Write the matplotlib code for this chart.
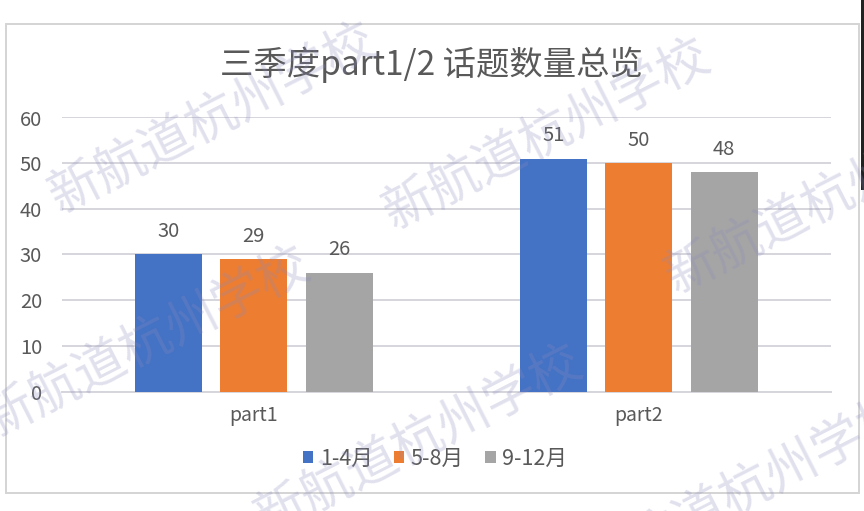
from matplotlib import pyplot as plt
from matplotlib.patches import Rectangle
import numpy as np

plt.rcParams['font.family'] = ['Noto Sans CJK SC', 'DejaVu Sans']

title = "三季度part1/2 话题数量总览"
categories = ["part1", "part2"]
series_names = ["1-4月", "5-8月", "9-12月"]
series_values = [[30, 51], [29, 50], [26, 48]]
series_colors = ["#4472C4", "#ED7D31", "#A5A5A5"]
y_ticks = [0, 10, 20, 30, 40, 50, 60]

watermark = "新航道杭州学校"
# watermark anchors in figure pixels, measured from the top left (left end of the text)
watermark_starts = [(60, 214), (394, 230), (676, 294), (-6, 438), (266, 536), (594, 585)]

W, H = 864, 511
text_color = "#595959"
grid_color = "#D5D5DC"

fig = plt.figure(figsize=(W / 100, H / 100), dpi=100)
fig.patch.set_facecolor("white")

# outer chart frame, kept behind the axes
fig.add_artist(Rectangle((6 / W, 1 - 493 / H), 853 / W, 469 / H, transform=fig.transFigure,
                         facecolor="white", edgecolor="#D4D4D4", linewidth=1.4, zorder=-1))

ax = fig.add_axes([61.5 / W, 1 - 391.5 / H, 769.5 / W, 274 / H])
ax.set_facecolor("none")

x = np.arange(len(categories))
bar_width = 0.174
step = 0.222
for i in range(len(series_names)):
    bars = ax.bar(x + (i - 1) * step, series_values[i], bar_width, color=series_colors[i],
                  label=series_names[i], zorder=3)
    ax.bar_label(bars, padding=9, fontsize=14.5, color=text_color)

ax.set_xlim(-0.5, 1.5)
ax.set_ylim(0, 60)
ax.set_yticks(y_ticks)
ax.set_xticks(x)
ax.set_xticklabels(categories)
ax.tick_params(axis="y", length=0, pad=14, labelsize=14.5, labelcolor=text_color)
ax.tick_params(axis="x", length=0, pad=10, labelsize=14, labelcolor=text_color)
ax.grid(axis="y", color=grid_color, linewidth=1.4, zorder=0)
ax.set_axisbelow(True)
for side in ["top", "right", "left"]:
    ax.spines[side].set_visible(False)
ax.spines["bottom"].set_color(grid_color)
ax.spines["bottom"].set_linewidth(1.4)

fig.text(431 / W, 1 - 65 / H, title, ha="center", va="center", fontsize=24, color=text_color)

ax.legend(loc="center", bbox_to_anchor=(435 / W, 1 - 459 / H), bbox_transform=fig.transFigure,
          ncol=3, frameon=False, fontsize=15.5, labelcolor=text_color, handlelength=0.48,
          handleheight=0.48, handletextpad=0.3, columnspacing=1.0)

# watermark goes over everything, bars included
for sx, sy in watermark_starts:
    fig.text(sx / W, 1 - sy / H, watermark, fontsize=37, color="#8C8CC0", alpha=0.26,
             rotation=27, rotation_mode="anchor", ha="left", va="baseline", zorder=10)

# dark strip of the screenshot edge
fig.add_artist(Rectangle((861 / W, 1 - 190 / H), 3 / W, 190 / H, transform=fig.transFigure,
                         facecolor="#222222", edgecolor="none"))

fig.savefig("out.png", dpi=100)
